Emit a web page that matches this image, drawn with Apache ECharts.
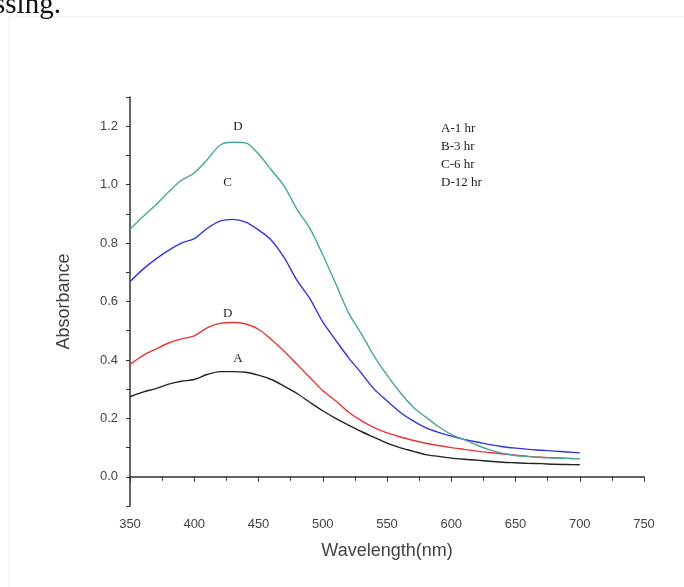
<!DOCTYPE html>
<html>
<head>
<meta charset="utf-8">
<script src="https://cdn.jsdelivr.net/npm/echarts@6/dist/echarts.min.js"></script>
<style>
  html, body { margin: 0; padding: 0; background: #fff; }
  #main { width: 684px; height: 587px; }
</style>
</head>
<body>
<div id="main"></div>
<script>
// wavelength (nm)
var wavelength = [350, 360, 370, 380, 390, 400, 410, 420, 430, 440, 450, 460, 470, 480, 490, 500,
  510, 520, 530, 540, 550, 560, 570, 580, 590, 600, 610, 620, 630, 640, 650, 660, 670, 680, 690, 700];

// absorbance, one array per time
var absA = [0.274, 0.290, 0.302, 0.317, 0.327, 0.333, 0.350, 0.360, 0.360, 0.358, 0.348, 0.333,
  0.310, 0.285, 0.255, 0.226, 0.200, 0.177, 0.155, 0.135, 0.115, 0.100, 0.088, 0.076, 0.070,
  0.064, 0.060, 0.057, 0.053, 0.050, 0.048, 0.046, 0.045, 0.043, 0.042, 0.041];
var absB = [0.385, 0.415, 0.437, 0.458, 0.472, 0.482, 0.510, 0.525, 0.528, 0.523, 0.505, 0.470,
  0.430, 0.385, 0.340, 0.295, 0.260, 0.222, 0.192, 0.168, 0.150, 0.137, 0.125, 0.115, 0.107,
  0.100, 0.094, 0.088, 0.083, 0.078, 0.074, 0.070, 0.067, 0.065, 0.063, 0.062];
var absC = [0.668, 0.710, 0.745, 0.775, 0.800, 0.815, 0.850, 0.875, 0.881, 0.872, 0.845, 0.810,
  0.750, 0.672, 0.610, 0.530, 0.468, 0.408, 0.355, 0.300, 0.260, 0.222, 0.192, 0.168, 0.152,
  0.139, 0.128, 0.119, 0.110, 0.103, 0.098, 0.094, 0.091, 0.088, 0.085, 0.082];
var absD = [0.847, 0.890, 0.930, 0.975, 1.015, 1.040, 1.085, 1.135, 1.145, 1.143, 1.105, 1.050,
  0.995, 0.915, 0.850, 0.760, 0.662, 0.562, 0.490, 0.413, 0.348, 0.290, 0.240, 0.205, 0.172,
  0.145, 0.127, 0.108, 0.092, 0.080, 0.073, 0.069, 0.066, 0.064, 0.063, 0.062];

// letters written above each curve (B is printed as "D" in the original)
var curveLabels = ['A', 'D', 'C', 'D'];
var labelX = [434, 426, 426, 434];
var labelY = [0.405, 0.559, 1.008, 1.200];

var legendLines = ['A-1 hr', 'B-3 hr', 'C-6 hr', 'D-12 hr'];

var colors = ['#222222', '#e8353a', '#3434d8', '#4aa59b'];
var seriesData = [absA, absB, absC, absD];

function pairs(ys) {
  return wavelength.map(function (x, i) { return [x, ys[i]]; });
}

var series = seriesData.map(function (ys, i) {
  return {
    type: 'line',
    data: pairs(ys),
    showSymbol: false,
    smooth: 0.3,
    lineStyle: { color: colors[i], width: 1.4 },
    markPoint: {
      symbol: 'circle',
      symbolSize: 0,
      data: [{ coord: [labelX[i], labelY[i]], value: curveLabels[i] }],
      label: {
        show: true,
        position: 'inside',
        formatter: curveLabels[i],
        fontFamily: 'Liberation Serif',
        fontSize: 13,
        color: '#222'
      }
    }
  };
});

var myChart = echarts.init(document.getElementById('main'));
myChart.setOption({
  backgroundColor: '#fff',
  animation: false,
  grid: { left: 130, right: 40, top: 97, bottom: 81 },
  xAxis: {
    type: 'value',
    min: 350,
    max: 750,
    interval: 50,
    name: 'Wavelength(nm)',
    nameLocation: 'middle',
    nameGap: 36,
    nameTextStyle: { fontFamily: 'Liberation Sans', fontSize: 18, color: '#444' },
    axisLine: { lineStyle: { color: '#333', width: 1.5 } },
    axisTick: { inside: false, length: 5, lineStyle: { color: '#333' } },
    minorTick: { show: true, splitNumber: 2, length: 4, lineStyle: { color: '#333' } },
    axisLabel: { margin: 12, fontFamily: 'Liberation Sans', fontSize: 13, color: '#444' },
    splitLine: { show: false }
  },
  yAxis: {
    type: 'value',
    min: -0.1,
    max: 1.3,
    interval: 0.1,
    name: 'Absorbance',
    nameLocation: 'middle',
    nameGap: 57,
    nameTextStyle: { fontFamily: 'Liberation Sans', fontSize: 18, color: '#444' },
    axisLine: { show: true, lineStyle: { color: '#333', width: 1.5 } },
    axisTick: { show: true, inside: false, length: 4, lineStyle: { color: '#333' } },
    axisLabel: {
      margin: 12,
      fontFamily: 'Liberation Sans',
      fontSize: 13,
      color: '#444',
      formatter: function (v) {
        var k = Math.round(v * 10);
        if (k < 0 || k % 2 !== 0 || k > 12) return '';
        return (k / 10).toFixed(1);
      }
    },
    splitLine: { show: false }
  },
  graphic: [
    {
      type: 'rect',
      shape: { x: 9, y: 17, width: 700, height: 600 },
      style: { fill: 'none', stroke: '#efefef', lineWidth: 1 },
      silent: true
    },
    {
      type: 'text',
      left: -6,
      top: -9,
      style: { text: 'ssing.', font: '29px "Liberation Serif"', fill: '#111' }
    },
    {
      type: 'text',
      left: 441,
      top: 120,
      style: {
        text: legendLines.join('\n'),
        font: '13px "Liberation Serif"',
        lineHeight: 18,
        fill: '#222'
      }
    }
  ],
  series: series
});
</script>
</body>
</html>
